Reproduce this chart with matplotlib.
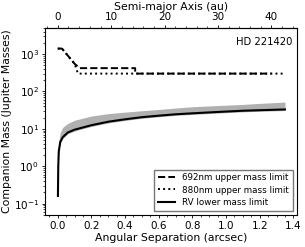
import numpy as np
import matplotlib
matplotlib.use("Agg")
import matplotlib.pyplot as plt
from matplotlib.ticker import AutoMinorLocator, FixedLocator

# contrast-curve limits (arcsec, Jupiter masses)
sep_692 = [0.0, 0.025, 0.07, 0.10, 0.13, 0.46, 0.46, 1.27]
mass_692 = [1400, 1400, 800, 550, 420, 420, 300, 300]
sep_880 = [0.0, 0.025, 0.07, 0.10, 0.12, 1.34]
mass_880 = [1400, 1400, 800, 550, 300, 300]

# RV lower mass limit and its spread
sep_rv = [0.001, 0.003, 0.006, 0.015, 0.03, 0.06, 0.1, 0.2, 0.3, 0.4, 0.5,
          0.6, 0.7, 0.8, 0.9, 1.0, 1.1, 1.2, 1.35]
mass_rv = [0.16, 1.0, 2.5, 4.5, 6.0, 8.0, 9.5, 12.5, 15.5, 18.0, 20.5,
           22.5, 24.5, 26.0, 27.5, 29.0, 30.5, 31.5, 33.0]
band_hi = [0.3, 2.0, 4.5, 8.0, 11.0, 14.0, 17.0, 22.0, 25.5, 28.0, 30.5,
           33.0, 36.0, 39.0, 41.0, 43.0, 45.0, 48.0, 52.0]
band_lo = [0.15, 0.9, 2.3, 4.1, 5.5, 7.4, 8.8, 11.6, 14.4, 16.8, 19.1,
           21.0, 22.9, 24.3, 25.7, 27.1, 28.5, 29.5, 30.9]

au_ticks = [0, 10, 20, 30, 40]
dist_pc = 31.5  # au per arcsec

fig = plt.figure(figsize=(3.05, 2.47), dpi=100)
ax = fig.add_axes([0.148, 0.130, 0.826, 0.757])

ax.fill_between(sep_rv, band_lo, band_hi, color="#b0b0b0", lw=0)
ax.plot(sep_880, mass_880, ":", color="black", lw=1.4, label="880nm upper mass limit")
ax.plot(sep_692, mass_692, "--", color="black", lw=1.4, label="692nm upper mass limit")
ax.plot(sep_rv, mass_rv, "-", color="black", lw=1.5, label="RV lower mass limit")

ax.set_yscale("log")
ax.set_ylim(0.05, 5000)
ax.set_xlim(-0.075, 1.422)
ax.xaxis.set_minor_locator(AutoMinorLocator())
ax.tick_params(labelsize=7.5, length=2.5, width=0.6, pad=2)
ax.tick_params(which="minor", length=1.5, width=0.5)
ax.set_xlabel("Angular Separation (arcsec)", fontsize=7.8, labelpad=1)
ax.set_ylabel("Companion Mass (Jupiter Masses)", fontsize=7.8, labelpad=1)

ax.text(0.98, 0.95, "HD 221420", transform=ax.transAxes, ha="right", va="top", fontsize=7.2)

h, l = ax.get_legend_handles_labels()
order = [1, 0, 2]
ax.legend([h[i] for i in order], [l[i] for i in order], loc="lower right",
          fontsize=6.3, handlelength=2.0, fancybox=False, edgecolor="#555555",
          borderpad=0.4, labelspacing=0.4, handletextpad=0.8)

top = ax.secondary_xaxis("top", functions=(lambda x: x * dist_pc, lambda a: a / dist_pc))
top.xaxis.set_major_locator(FixedLocator(au_ticks))
top.xaxis.set_minor_locator(FixedLocator(np.arange(-2, 46, 2)))
top.set_xlabel("Semi-major Axis (au)", fontsize=7.8, labelpad=2)
top.tick_params(labelsize=7.5, length=2.5, width=0.6, pad=1.5)
top.tick_params(which="minor", length=1.5, width=0.5)

fig.savefig("out.png", dpi=100)
